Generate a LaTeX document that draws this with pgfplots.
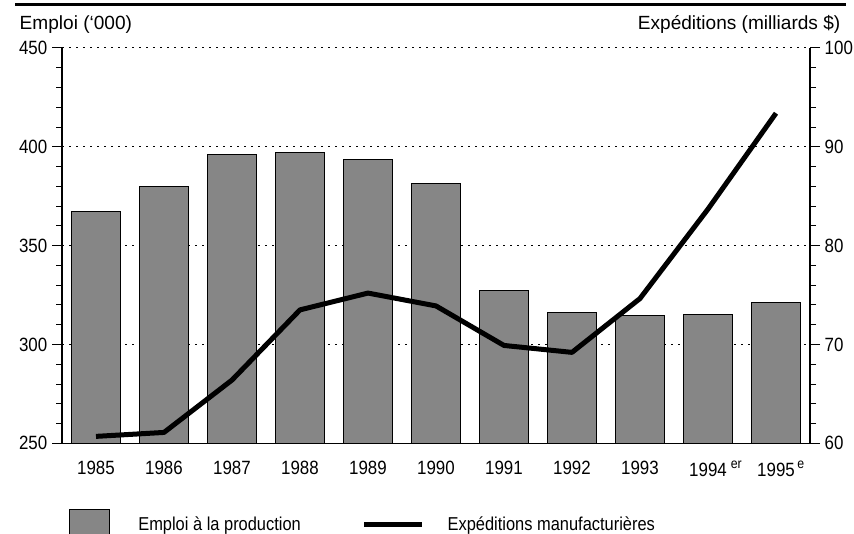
\documentclass[border=0pt]{standalone}
\usepackage{fontspec}
\setmainfont{Liberation Sans}
\newfontfamily\narrowfont[FakeStretch=0.88]{Liberation Sans}
\usepackage{pgfplots}
\pgfplotsset{compat=1.18}
\definecolor{bargray}{RGB}{134,134,134}
\pgfplotsset{
  base/.style={
    at={(46.5pt,67.275pt)}, anchor=south west,
    scale only axis, width=561pt, height=296.5pt,
    xmin=-0.5, xmax=10.5,
    tick align=outside,
    major tick length=7.5pt, minor tick length=4.5pt,
    tick style={black, line width=0.75pt},
    axis line style={line width=1pt},
    ticklabel style={font=\narrowfont\fontsize{14.4}{16}\selectfont},
    /pgf/number format/assume math mode=true,
  }
}
\begin{document}
\begin{tikzpicture}
\begin{axis}[base,
  ymin=250, ymax=450, ytick={250,300,...,450}, minor y tick num=4,
  axis y line*=left, axis x line*=bottom,
  xtick={0,...,10},
  xticklabels={1985,1986,1987,1988,1989,1990,1991,1992,1993,
    {1994\rlap{\hspace{3pt}\raisebox{5.5pt}{\fontsize{10.5}{10}\selectfont er}}},
    {1995\rlap{\hspace{2pt}\raisebox{5.5pt}{\fontsize{10.5}{10}\selectfont e}}}},
  xticklabel style={yshift=-2.5pt},
  xtick style={draw=none},
  ymajorgrids,
  major grid style={line width=0.75pt, dash pattern=on 1.5pt off 3.75pt, black},
  ylabel={Emploi (‘000)},
  every axis y label/.style={at={(axis description cs:-0.0628,1.0455)}, anchor=base west, font=\fontsize{14.3}{17}\selectfont},
  legend columns=2,
  legend cell align=left,
  legend style={at={(axis description cs:0.0098,-0.167)}, anchor=north west,
    draw=none, fill=none, inner sep=0pt, outer sep=0pt, row sep=0pt,
    font=\narrowfont\fontsize{14}{16}\selectfont,
    nodes={inner sep=0pt},
    /tikz/every odd column/.append style={column sep=17.5pt},
    /tikz/every even column/.append style={column sep=43.8pt}},
]
\addplot[ybar, bar width=36.75pt, fill=bargray, draw=black, line width=0.75pt,
  legend image code/.code={\draw[fill=bargray,draw=black,line width=0.75pt] (0pt,-11.25pt) rectangle (30pt,11.25pt); \path (33.5pt,0pt);}]
  coordinates {(0,367.3) (1,380.0) (2,396.0) (3,397.0) (4,393.4) (5,381.3) (6,327.1) (7,316.3) (8,314.6) (9,315.2) (10,321.4)};
\addlegendentry{\makebox[123.75pt][l]{Emploi à la production}}
\addlegendimage{legend image code/.code={\draw[line width=3.75pt] (0pt,0pt) -- (43.2pt,0pt);}}
\addlegendentry{Expéditions manufacturières}
\end{axis}
\begin{axis}[base,
  ymin=60, ymax=100, ytick={60,70,...,100}, minor y tick num=4,
  axis y line*=right, axis x line=none,
  ylabel={Expéditions (milliards \$)},
  every axis y label/.style={at={(axis description cs:1.0468,1.0455)}, anchor=base east, font=\fontsize{14.3}{17}\selectfont},
]
\addplot[black, line width=3.75pt, line join=round]
  coordinates {(0,60.7) (1,61.1) (2,66.4) (3,73.5) (4,75.2) (5,73.9) (6,69.9) (7,69.2) (8,74.65) (9,83.7) (10,93.4)};
\end{axis}
\draw[line width=2.25pt] (11.25pt,396.6pt) -- (634.5pt,396.6pt);
\pgfresetboundingbox
\path[use as bounding box] (0,0) rectangle (640.5pt,399.75pt);
\end{tikzpicture}
\end{document}
